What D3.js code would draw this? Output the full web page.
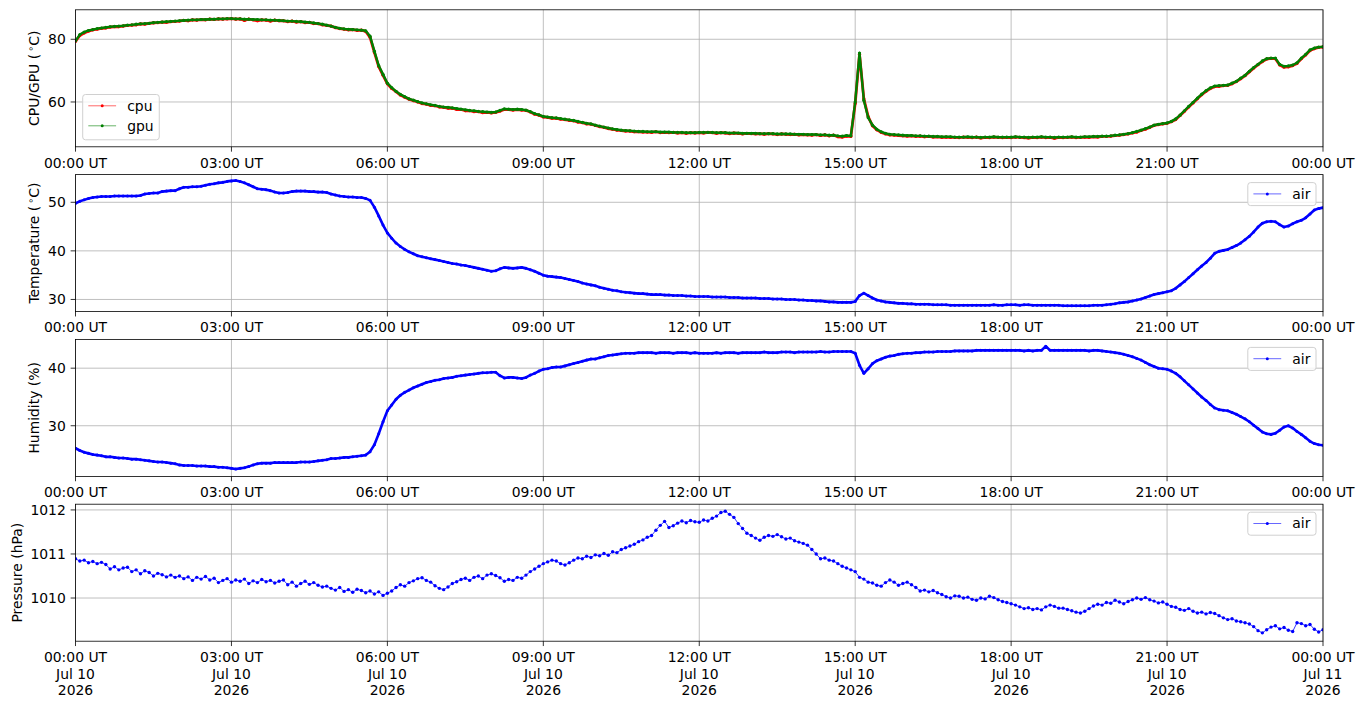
<!DOCTYPE html>
<html>
<head>
<meta charset="utf-8">
<script src="https://cdn.jsdelivr.net/npm/d3@7"></script>
<style>
  body { margin: 0; background: #fff; }
  text { font-family: "DejaVu Sans", sans-serif; font-size: 13.9px; fill: #000; }
</style>
</head>
<body>
<svg id="chart" width="1364" height="707"></svg>
<script>
// samples every 5 minutes, 2026-07-10 00:00 UT .. 2026-07-11 00:00 UT
const startTime = Date.UTC(2026, 6, 10, 0, 0);
const stepMinutes = 5;

const cpuTemp = [
  79.3, 81.2, 82.0, 82.6, 83.0, 83.2, 83.5, 83.6, 83.9, 84.0, 84.0, 84.2,
  84.4, 84.5, 84.6, 84.9, 84.8, 85.1, 85.2, 85.3, 85.5, 85.4, 85.6, 85.7,
  85.8, 86.0, 85.9, 86.2, 86.1, 86.3, 86.2, 86.4, 86.3, 86.5, 86.4, 86.5,
  86.6, 86.4, 86.5, 86.0, 86.4, 86.2, 85.9, 86.2, 86.1, 85.8, 86.1, 85.9,
  85.9, 85.6, 85.8, 85.5, 85.6, 85.3, 85.4, 85.0, 85.0, 84.6, 84.4, 84.2,
  83.7, 83.4, 83.2, 83.0, 83.1, 82.8, 82.9, 82.5, 80.6, 75.8, 71.3, 68.5,
  65.8, 64.3, 63.3, 62.2, 61.5, 60.9, 60.4, 60.0, 59.5, 59.3, 58.9, 58.8,
  58.4, 58.3, 58.0, 58.0, 57.6, 57.6, 57.2, 57.2, 56.9, 56.9, 56.6, 56.7,
  56.5, 56.7, 57.1, 57.6, 57.6, 57.4, 57.6, 57.4, 57.3, 56.8, 56.1, 55.8,
  55.2, 55.1, 54.8, 54.8, 54.5, 54.4, 54.1, 54.0, 53.6, 53.4, 53.0, 52.9,
  52.5, 52.1, 51.9, 51.5, 51.3, 51.0, 50.9, 50.7, 50.7, 50.5, 50.5, 50.4,
  50.4, 50.3, 50.5, 50.2, 50.3, 50.2, 50.3, 50.1, 50.2, 50.0, 50.2, 50.1,
  50.2, 50.1, 50.3, 50.2, 50.0, 50.2, 50.1, 49.9, 50.1, 50.0, 49.8, 50.0,
  49.9, 49.8, 49.9, 49.7, 49.9, 49.8, 49.6, 49.8, 49.7, 49.6, 49.7, 49.5,
  49.6, 49.5, 49.4, 49.6, 49.3, 49.5, 49.2, 49.4, 48.9, 48.8, 49.1, 49.0,
  59.5, 75.2, 61.0, 55.3, 52.4, 51.1, 50.3, 49.8, 49.5, 49.4, 49.3, 49.2,
  49.1, 49.2, 49.0, 49.1, 48.9, 49.0, 48.8, 48.9, 48.7, 48.8, 48.7, 48.7,
  48.6, 48.8, 48.7, 48.6, 48.8, 48.5, 48.7, 48.6, 48.8, 48.7, 48.6, 48.7,
  48.6, 48.8, 48.7, 48.6, 48.5, 48.7, 48.6, 48.8, 48.6, 48.7, 48.4, 48.7,
  48.6, 48.7, 48.8, 48.6, 48.7, 48.8, 48.7, 48.9, 48.8, 49.0, 49.0, 49.1,
  49.3, 49.4, 49.6, 49.8, 50.1, 50.4, 50.9, 51.3, 51.9, 52.5, 52.8, 53.0,
  53.2, 53.7, 54.4, 55.7, 57.0, 58.4, 59.7, 61.0, 62.3, 63.4, 64.3, 64.9,
  65.0, 65.2, 65.3, 65.8, 66.5, 67.4, 68.4, 69.6, 70.8, 71.9, 72.9, 73.7,
  73.9, 73.8, 71.8, 71.1, 71.2, 71.6, 72.3, 73.8, 75.0, 76.4, 77.0, 77.4,
  77.5
];

const gpuTemp = [
  79.5, 81.5, 82.3, 82.8, 83.1, 83.4, 83.6, 83.8, 84.0, 84.1, 84.2, 84.3,
  84.5, 84.6, 84.8, 84.9, 85.0, 85.1, 85.3, 85.4, 85.5, 85.6, 85.7, 85.8,
  85.9, 86.0, 86.1, 86.2, 86.2, 86.3, 86.3, 86.4, 86.4, 86.5, 86.5, 86.6,
  86.6, 86.5, 86.5, 86.4, 86.4, 86.3, 86.3, 86.2, 86.2, 86.1, 86.1, 86.0,
  85.9, 85.8, 85.8, 85.7, 85.6, 85.5, 85.4, 85.2, 85.0, 84.8, 84.5, 84.2,
  83.8, 83.5, 83.3, 83.2, 83.1, 83.0, 82.9, 82.7, 81.0, 76.2, 71.6, 68.8,
  66.0, 64.6, 63.4, 62.4, 61.7, 61.0, 60.6, 60.1, 59.7, 59.4, 59.1, 58.9,
  58.6, 58.4, 58.3, 58.1, 57.9, 57.7, 57.5, 57.3, 57.2, 57.0, 56.9, 56.8,
  56.7, 56.8, 57.3, 57.8, 57.7, 57.6, 57.7, 57.6, 57.4, 56.9, 56.3, 55.9,
  55.4, 55.2, 55.0, 54.9, 54.7, 54.5, 54.3, 54.1, 53.8, 53.5, 53.2, 53.0,
  52.6, 52.3, 52.0, 51.7, 51.4, 51.2, 51.0, 50.9, 50.8, 50.7, 50.6, 50.6,
  50.5, 50.5, 50.5, 50.4, 50.4, 50.4, 50.3, 50.3, 50.3, 50.2, 50.2, 50.2,
  50.3, 50.3, 50.3, 50.3, 50.2, 50.2, 50.2, 50.1, 50.1, 50.1, 50.0, 50.0,
  50.0, 50.0, 49.9, 49.9, 49.9, 49.9, 49.8, 49.8, 49.8, 49.8, 49.7, 49.7,
  49.7, 49.6, 49.6, 49.6, 49.5, 49.5, 49.4, 49.4, 49.2, 49.1, 49.3, 49.2,
  60.0, 75.6, 60.5, 55.0, 52.6, 51.3, 50.5, 50.0, 49.7, 49.6, 49.5, 49.4,
  49.3, 49.3, 49.2, 49.2, 49.1, 49.1, 49.0, 49.0, 48.9, 48.9, 48.9, 48.8,
  48.8, 48.8, 48.9, 48.8, 48.8, 48.7, 48.8, 48.8, 48.9, 48.8, 48.8, 48.8,
  48.8, 48.9, 48.8, 48.8, 48.7, 48.8, 48.8, 48.9, 48.8, 48.8, 48.7, 48.8,
  48.8, 48.8, 48.9, 48.8, 48.8, 48.9, 48.9, 49.0, 49.0, 49.1, 49.1, 49.2,
  49.4, 49.5, 49.7, 49.9, 50.2, 50.6, 51.0, 51.5, 52.0, 52.6, 52.9, 53.1,
  53.3, 53.8, 54.6, 55.8, 57.2, 58.6, 59.9, 61.2, 62.5, 63.6, 64.5, 65.1,
  65.2, 65.3, 65.4, 66.0, 66.6, 67.6, 68.5, 69.8, 71.0, 72.0, 73.1, 73.8,
  74.0, 74.0, 72.0, 71.4, 71.5, 71.8, 72.5, 74.0, 75.2, 76.6, 77.2, 77.5,
  77.6
];

const airTemp = [
  49.8, 50.2, 50.5, 50.8, 51.0, 51.1, 51.2, 51.2, 51.2, 51.3, 51.3, 51.3,
  51.3, 51.3, 51.3, 51.4, 51.7, 51.8, 51.9, 51.9, 52.2, 52.3, 52.4, 52.4,
  52.8, 53.1, 53.1, 53.2, 53.2, 53.3, 53.5, 53.7, 53.8, 54.0, 54.1, 54.3,
  54.4, 54.5, 54.3, 54.0, 53.6, 53.2, 52.8, 52.7, 52.6, 52.4, 52.1, 51.9,
  51.9, 52.0, 52.2, 52.3, 52.3, 52.3, 52.2, 52.2, 52.1, 52.1, 52.0, 51.7,
  51.5, 51.3, 51.2, 51.1, 51.1, 51.0, 51.0, 50.8, 50.4, 49.0, 47.2, 45.3,
  43.7, 42.6, 41.6, 40.9, 40.3, 39.8, 39.4, 39.0, 38.8, 38.6, 38.4, 38.2,
  38.0, 37.8, 37.6, 37.4, 37.3, 37.1, 37.0, 36.8, 36.6, 36.4, 36.2, 36.0,
  35.8, 35.9, 36.3, 36.6, 36.5, 36.4, 36.5, 36.6, 36.4, 36.1, 35.8, 35.4,
  35.0, 34.8, 34.7, 34.6, 34.5, 34.3, 34.1, 33.9, 33.7, 33.4, 33.2, 33.0,
  32.8, 32.5, 32.3, 32.1, 31.9, 31.8, 31.6, 31.5, 31.4, 31.3, 31.2, 31.2,
  31.1, 31.0, 31.0, 31.0, 30.9, 30.9, 30.8, 30.8, 30.8, 30.7, 30.7, 30.6,
  30.6, 30.6, 30.6, 30.5, 30.5, 30.5, 30.5, 30.4, 30.4, 30.4, 30.3, 30.3,
  30.3, 30.3, 30.2, 30.2, 30.2, 30.1, 30.1, 30.1, 30.0, 30.0, 30.0, 29.9,
  29.9, 29.8, 29.8, 29.7, 29.7, 29.6, 29.5, 29.5, 29.4, 29.4, 29.4, 29.4,
  29.6, 30.8, 31.3, 30.8, 30.3, 29.9, 29.7, 29.5, 29.4, 29.3, 29.2, 29.2,
  29.1, 29.1, 29.0, 29.0, 29.0, 29.0, 28.9, 28.9, 28.9, 28.9, 28.8, 28.8,
  28.8, 28.8, 28.8, 28.8, 28.8, 28.8, 28.8, 28.8, 28.9, 28.8, 28.8, 28.9,
  28.9, 28.9, 28.8, 28.9, 28.9, 28.8, 28.8, 28.8, 28.8, 28.8, 28.8, 28.8,
  28.7, 28.7, 28.7, 28.7, 28.7, 28.7, 28.7, 28.8, 28.8, 28.8, 28.9, 29.0,
  29.1, 29.3, 29.4, 29.5, 29.7, 29.9, 30.1, 30.4, 30.7, 31.0, 31.2, 31.4,
  31.6, 31.8, 32.3, 33.0, 33.7, 34.5, 35.3, 36.1, 36.9, 37.6, 38.5, 39.5,
  39.9, 40.1, 40.3, 40.7, 41.1, 41.6, 42.3, 43.0, 43.9, 44.9, 45.7, 46.0,
  46.1, 46.0, 45.4, 44.9, 45.1, 45.6, 46.0, 46.3, 46.8, 47.6, 48.4, 48.7,
  48.9
];

const airHumidity = [
  26.1, 25.7, 25.4, 25.2, 25.0, 24.9, 24.8, 24.6, 24.6, 24.5, 24.4, 24.4,
  24.3, 24.2, 24.2, 24.1, 24.0, 23.9, 23.8, 23.7, 23.7, 23.6, 23.5, 23.4,
  23.2, 23.1, 23.1, 23.1, 23.0, 23.0, 23.0, 22.9, 22.9, 22.8, 22.8, 22.7,
  22.6, 22.5, 22.6, 22.7, 22.9, 23.2, 23.4, 23.5, 23.5, 23.5, 23.6, 23.6,
  23.6, 23.6, 23.6, 23.6, 23.7, 23.7, 23.7, 23.8, 23.9, 24.0, 24.1, 24.3,
  24.3, 24.4, 24.5, 24.5, 24.6, 24.7, 24.8, 24.9, 25.5, 26.7, 28.6, 30.7,
  32.6, 33.6, 34.6, 35.3, 35.8, 36.2, 36.6, 36.9, 37.2, 37.5, 37.7, 37.9,
  38.0, 38.2, 38.3, 38.4, 38.6, 38.7, 38.8, 38.9, 39.0, 39.1, 39.2, 39.2,
  39.3, 39.3, 38.7, 38.3, 38.4, 38.4, 38.3, 38.2, 38.4, 38.8, 39.1, 39.5,
  39.8, 39.9, 40.1, 40.2, 40.2, 40.4, 40.6, 40.8, 41.0, 41.2, 41.4, 41.6,
  41.6, 41.8, 42.0, 42.2, 42.3, 42.4, 42.5, 42.6, 42.6, 42.6, 42.7, 42.7,
  42.7, 42.7, 42.6, 42.7, 42.7, 42.7, 42.6, 42.7, 42.7, 42.7, 42.6, 42.7,
  42.6, 42.6, 42.6, 42.6, 42.7, 42.6, 42.7, 42.7, 42.7, 42.6, 42.7, 42.7,
  42.7, 42.7, 42.7, 42.8, 42.7, 42.7, 42.7, 42.8, 42.8, 42.8, 42.7, 42.8,
  42.8, 42.8, 42.8, 42.8, 42.9, 42.8, 42.8, 42.9, 42.9, 42.9, 42.9, 42.9,
  42.6, 40.5, 39.1, 39.9, 40.8, 41.3, 41.6, 41.9, 42.1, 42.2, 42.4, 42.5,
  42.6, 42.6, 42.7, 42.7, 42.8, 42.8, 42.8, 42.9, 42.9, 42.9, 42.9, 43.0,
  43.0, 43.0, 43.0, 43.0, 43.1, 43.1, 43.1, 43.1, 43.1, 43.1, 43.1, 43.1,
  43.1, 43.1, 43.1, 43.0, 43.1, 43.0, 43.1, 43.1, 43.8, 43.1, 43.1, 43.1,
  43.1, 43.1, 43.1, 43.1, 43.1, 43.1, 43.0, 43.1, 43.1, 43.0, 42.9, 42.8,
  42.7, 42.6, 42.4, 42.2, 42.0, 41.7, 41.4, 41.0, 40.6, 40.3, 40.0, 39.9,
  39.8, 39.5, 39.1, 38.5, 37.8, 37.1, 36.4, 35.7, 35.0, 34.4, 33.7, 33.1,
  32.8, 32.7, 32.6, 32.3, 32.0, 31.6, 31.2, 30.7, 30.1, 29.5, 28.9, 28.6,
  28.5, 28.7, 29.2, 29.8, 30.0, 29.6, 29.0, 28.5, 27.9, 27.3, 26.9, 26.7,
  26.6
];

const airPressure = [
  1010.89, 1010.84, 1010.86, 1010.80, 1010.83, 1010.78, 1010.81, 1010.76, 1010.66, 1010.71, 1010.64, 1010.68,
  1010.70, 1010.60, 1010.64, 1010.55, 1010.62, 1010.58, 1010.50, 1010.56, 1010.53, 1010.48, 1010.52, 1010.47,
  1010.50, 1010.44, 1010.48, 1010.40, 1010.47, 1010.43, 1010.49, 1010.41, 1010.45, 1010.35, 1010.40, 1010.44,
  1010.36, 1010.41, 1010.38, 1010.43, 1010.33, 1010.39, 1010.35, 1010.42, 1010.37, 1010.40, 1010.34, 1010.38,
  1010.41, 1010.30, 1010.36, 1010.27, 1010.33, 1010.38, 1010.31, 1010.35, 1010.29, 1010.25, 1010.27, 1010.22,
  1010.18, 1010.24, 1010.15, 1010.19, 1010.13, 1010.20, 1010.17, 1010.12, 1010.16, 1010.09, 1010.14, 1010.06,
  1010.11, 1010.16, 1010.24, 1010.30, 1010.27, 1010.35, 1010.39, 1010.44, 1010.46, 1010.40, 1010.36, 1010.28,
  1010.22, 1010.19, 1010.25, 1010.33, 1010.37, 1010.42, 1010.45, 1010.40, 1010.47, 1010.50, 1010.44, 1010.52,
  1010.55, 1010.51, 1010.46, 1010.38, 1010.42, 1010.40, 1010.47, 1010.45, 1010.52, 1010.60, 1010.66, 1010.72,
  1010.78, 1010.82, 1010.86, 1010.84, 1010.78, 1010.75, 1010.80, 1010.86, 1010.91, 1010.89, 1010.95, 1010.92,
  1010.98, 1010.96, 1011.01, 1010.97, 1011.05, 1011.03, 1011.10, 1011.14, 1011.18, 1011.22, 1011.28, 1011.32,
  1011.38, 1011.42, 1011.54, 1011.65, 1011.74, 1011.60, 1011.64, 1011.70, 1011.75, 1011.71, 1011.76, 1011.73,
  1011.72, 1011.77, 1011.75, 1011.81, 1011.86, 1011.94, 1011.97, 1011.90, 1011.83, 1011.69, 1011.58, 1011.47,
  1011.42, 1011.36, 1011.31, 1011.38, 1011.42, 1011.40, 1011.44, 1011.39, 1011.34, 1011.36, 1011.30, 1011.27,
  1011.24, 1011.20, 1011.10, 1011.00, 1010.89, 1010.91, 1010.86, 1010.84, 1010.78, 1010.72, 1010.68, 1010.64,
  1010.60, 1010.47, 1010.43, 1010.36, 1010.34, 1010.29, 1010.27, 1010.35, 1010.41, 1010.36, 1010.29, 1010.33,
  1010.36, 1010.30, 1010.24, 1010.16, 1010.18, 1010.14, 1010.17, 1010.12, 1010.08, 1010.03, 1010.00, 1010.05,
  1010.04, 1010.00, 1010.02, 1009.97, 1009.95, 1010.00, 1009.98, 1010.04, 1010.01, 1009.96, 1009.92, 1009.90,
  1009.87, 1009.84, 1009.80, 1009.76, 1009.78, 1009.74, 1009.76, 1009.73, 1009.80, 1009.84, 1009.81, 1009.77,
  1009.77, 1009.74, 1009.71, 1009.68, 1009.66, 1009.70, 1009.76, 1009.82, 1009.86, 1009.84, 1009.90, 1009.88,
  1009.95, 1009.91, 1009.87, 1009.92, 1009.96, 1010.00, 1009.97, 1010.01, 1009.96, 1009.93, 1009.89, 1009.91,
  1009.86, 1009.81, 1009.79, 1009.74, 1009.72, 1009.76, 1009.70, 1009.66, 1009.68, 1009.64, 1009.67, 1009.65,
  1009.60, 1009.55, 1009.51, 1009.53, 1009.48, 1009.46, 1009.44, 1009.41, 1009.35, 1009.26, 1009.21, 1009.28,
  1009.34, 1009.37, 1009.30, 1009.33, 1009.27, 1009.24, 1009.44, 1009.42, 1009.37, 1009.40, 1009.29, 1009.23,
  1009.28
];

// y axis ranges and ticks
const cpuDomain = [45.7, 89.4];
const cpuTicks = [60, 80];
const tempDomain = [27.5, 55.7];
const tempTicks = [30, 40, 50];
const humDomain = [21.2, 45.0];
const humTicks = [30, 40];
const presDomain = [1009.02, 1012.13];
const presTicks = [1010, 1011, 1012];

const left = 75.5;
const right = 1323;
const panelTop = 9.8;
const panelPitch = 164.8;
const panelHeight = 137;
const tickLen = 4.86;
const tickPad = 4.86;

const svg = d3.select('#chart');

const times = gpuTemp.map((d, i) => new Date(startTime + i * stepMinutes * 60000));

const xscale = d3.scaleUtc()
  .domain([new Date(startTime), new Date(startTime + 24 * 3600 * 1000)])
  .range([left, right]);
const xTicks = xscale.ticks(d3.utcHour.every(3));
const fmtTime = d3.utcFormat('%H:%M UT');
const fmtDay = d3.utcFormat('%b %d');
const fmtYear = d3.utcFormat('%Y');

// band: stroke width of the trace, which in the original is made of dense markers
const panels = [
  { label: 'CPU/GPU (', degree: true, domain: cpuDomain, ticks: cpuTicks,
    series: [{ name: 'cpu', values: cpuTemp, color: 'red', band: 2.8, r: 1.6 },
             { name: 'gpu', values: gpuTemp, color: 'green', band: 2.4, r: 1.6 }],
    legend: 'lower left' },
  { label: 'Temperature (', degree: true, domain: tempDomain, ticks: tempTicks,
    series: [{ name: 'air', values: airTemp, color: 'blue', band: 2.6, r: 1.5 }], legend: 'upper right' },
  { label: 'Humidity (%)', domain: humDomain, ticks: humTicks,
    series: [{ name: 'air', values: airHumidity, color: 'blue', band: 2.6, r: 1.5 }], legend: 'upper right' },
  { label: 'Pressure (hPa)', domain: presDomain, ticks: presTicks,
    series: [{ name: 'air', values: airPressure, color: 'blue', band: 0.8, r: 1.7 }], legend: 'upper right', dates: true }
];

panels.forEach((p, k) => {
  const top = panelTop + k * panelPitch;
  const bottom = top + panelHeight;
  const yscale = d3.scaleLinear().domain(p.domain).range([bottom, top]);
  const g = svg.append('g');

  g.append('clipPath').attr('id', 'clip' + k)
    .append('rect')
    .attr('x', left).attr('y', top)
    .attr('width', right - left).attr('height', panelHeight);

  // grid
  g.append('g').selectAll('line')
    .data(xTicks).enter().append('line')
    .attr('x1', d => xscale(d)).attr('x2', d => xscale(d))
    .attr('y1', top).attr('y2', bottom)
    .attr('stroke', '#b0b0b0').attr('stroke-width', 0.8);
  g.append('g').selectAll('line')
    .data(p.ticks).enter().append('line')
    .attr('x1', left).attr('x2', right)
    .attr('y1', d => yscale(d)).attr('y2', d => yscale(d))
    .attr('stroke', '#b0b0b0').attr('stroke-width', 0.8);

  // data
  const plot = g.append('g').attr('clip-path', `url(#clip${k})`);
  const line = d3.line()
    .x((d, i) => xscale(times[i]))
    .y(d => yscale(d));
  p.series.forEach(s => {
    plot.append('path')
      .datum(s.values)
      .attr('d', line)
      .attr('fill', 'none')
      .attr('stroke', s.color)
      .attr('stroke-width', s.band)
      .attr('stroke-linejoin', 'round');
    plot.append('g').selectAll('circle')
      .data(s.values).enter().append('circle')
      .attr('cx', (d, i) => xscale(times[i]))
      .attr('cy', d => yscale(d))
      .attr('r', s.r)
      .attr('fill', s.color);
  });

  // spines
  g.append('rect')
    .attr('x', left).attr('y', top)
    .attr('width', right - left).attr('height', panelHeight)
    .attr('fill', 'none').attr('stroke', '#000').attr('stroke-width', 0.8);

  // x ticks
  const xAxis = g.append('g');
  xAxis.selectAll('line')
    .data(xTicks).enter().append('line')
    .attr('x1', d => xscale(d)).attr('x2', d => xscale(d))
    .attr('y1', bottom).attr('y2', bottom + tickLen)
    .attr('stroke', '#000').attr('stroke-width', 0.8);
  const xLabels = xAxis.selectAll('text')
    .data(xTicks).enter().append('text')
    .attr('text-anchor', 'middle')
    .attr('x', d => xscale(d))
    .attr('y', bottom + 20.8);
  xLabels.append('tspan').attr('x', d => xscale(d)).text(d => fmtTime(d));
  if (p.dates) {
    xLabels.append('tspan').attr('x', d => xscale(d)).attr('dy', 16.7).text(d => fmtDay(d));
    xLabels.append('tspan').attr('x', d => xscale(d)).attr('dy', 16.7).text(d => fmtYear(d));
  }

  // y ticks
  const yAxis = g.append('g');
  yAxis.selectAll('line')
    .data(p.ticks).enter().append('line')
    .attr('x1', left - tickLen).attr('x2', left)
    .attr('y1', d => yscale(d)).attr('y2', d => yscale(d))
    .attr('stroke', '#000').attr('stroke-width', 0.8);
  const yLabels = yAxis.selectAll('text')
    .data(p.ticks).enter().append('text')
    .attr('text-anchor', 'end')
    .attr('x', left - tickLen - tickPad)
    .attr('y', d => yscale(d))
    .attr('dy', '0.36em')
    .text(d => d);
  let maxW = 0;
  yLabels.each(function () { maxW = Math.max(maxW, this.getComputedTextLength()); });

  // y label
  const lx = left - tickLen - tickPad - maxW - 5.6 - 3.3;
  const ly = (top + bottom) / 2;
  const ylab = g.append('text')
    .attr('text-anchor', 'middle')
    .attr('transform', `translate(${lx},${ly}) rotate(-90)`);
  if (p.degree) {
    ylab.append('tspan').text(p.label);
    ylab.append('tspan').attr('dx', 2).attr('dy', -5).style('font-size', '9.7px').text('\u2218');
    ylab.append('tspan').attr('dy', 5).text('C)');
  } else {
    ylab.text(p.label);
  }

  // legend
  const leg = g.append('g');
  const bg = leg.append('rect');
  const pad = 5.6, handle = 27.8, gap = 11.1;
  const rowH = 20;
  const h = 23 + (p.series.length - 1) * 22.3;
  const texts = p.series.map(s => leg.append('text').text(s.name).attr('dy', '0.35em'));
  const tw = d3.max(texts, t => t.node().getComputedTextLength());
  const w = pad * 2 + handle + gap + tw;
  const bx = p.legend === 'lower left' ? left + 7.2 : right - 7 - w;
  const by = p.legend === 'lower left' ? bottom - 7 - h : top + 8;
  bg.attr('x', bx).attr('y', by).attr('width', w).attr('height', h)
    .attr('rx', 2.8)
    .attr('fill', '#fff').attr('fill-opacity', 0.8)
    .attr('stroke', '#d0d0d0').attr('stroke-width', 1);
  p.series.forEach((s, i) => {
    const cy = by + 11.3 + i * rowH;
    leg.append('line')
      .attr('x1', bx + pad).attr('x2', bx + pad + handle)
      .attr('y1', cy).attr('y2', cy)
      .attr('stroke', s.color).attr('stroke-width', 0.6);
    leg.append('circle')
      .attr('cx', bx + pad + handle / 2).attr('cy', cy).attr('r', 1.5)
      .attr('fill', s.color);
    texts[i].attr('x', bx + pad + handle + gap).attr('y', cy);
  });
});
</script>
</body>
</html>
